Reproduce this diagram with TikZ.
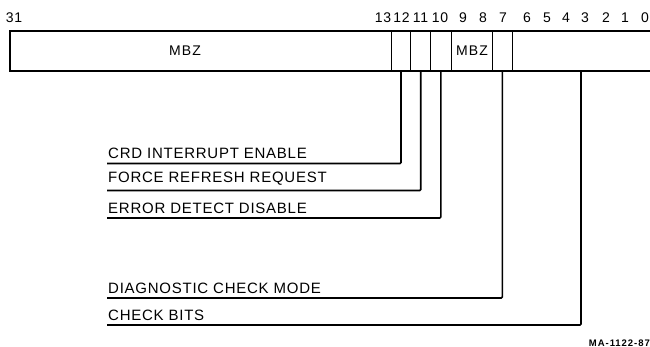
\documentclass[tikz,border=0pt]{standalone}
\usepackage{fontspec}
\setmainfont{Liberation Sans}[LetterSpace=5]
\usepackage{tikz}

\begin{document}
\begin{tikzpicture}[x=1pt,y=-1pt,
  bitnum/.style={align=center,inner sep=0pt,font=\fontsize{14}{16}\selectfont},
  cell/.style={inner sep=0pt,minimum height=40pt,font=\fontsize{14}{16}\selectfont\addfontfeature{LetterSpace=8}},
  fieldname/.style={anchor=south west,inner xsep=1pt,inner ysep=4.5pt,font=\fontsize{15}{18}\selectfont},
  leader/.style={draw=black,line width=1.6pt,rounded corners=1pt}]
\useasboundingbox (0,0) rectangle (650,347);

% bit numbers
\foreach \b/\x in {31/14,13/383,12/401.5,11/420.5,10/440,9/463,8/483,7/503,6/527,5/547,4/566,3/585,2/606,1/625,0/645}
  \node[bitnum] (n\b) at (\x,18) {\b};

% register outline, open on the right
\draw[line width=1.6pt] (650,31) -- (10,31) -- (10,71) -- (650,71);
\foreach \x in {391.7,410.7,430.7,451,492.7,512}
  \draw[line width=0.8pt] (\x,31) -- (\x,71);

% fields
\node[cell] (mbzhi) at (185,51) {MBZ};
\node[cell] (c12) at (401,51) {};
\node[cell] (c11) at (420.7,51) {};
\node[cell] (c10) at (440.8,51) {};
\node[cell] (mbzlo) at (472,51) {MBZ};
\node[cell] (c7) at (502.3,51) {};
\node[cell] (c3) at (581,51) {};

% field names
\node[fieldname] (crd) at (107,163.5) {CRD INTERRUPT ENABLE};
\node[fieldname] (frr) at (107,190.5) {FORCE REFRESH REQUEST};
\node[fieldname] (edd) at (107,218) {ERROR DETECT DISABLE};
\node[fieldname] (dcm) at (107,298) {DIAGNOSTIC CHECK MODE};
\node[fieldname] (cbt) at (107,325) {CHECK BITS};

\path [leader] (c12.south) |- (crd.south west);
\path [leader] (c11.south) |- (frr.south west);
\path [leader] (c10.south) |- (edd.south west);
\path [leader] (c7.south) |- (dcm.south west);
\path [leader] (c3.south) |- (cbt.south west);

\node[anchor=base east,inner sep=0pt,font=\fontsize{9.5}{11}\bfseries\selectfont\addfontfeature{LetterSpace=10}] (fig) at (650,346) {MA-1122-87};
\end{tikzpicture}
\end{document}
